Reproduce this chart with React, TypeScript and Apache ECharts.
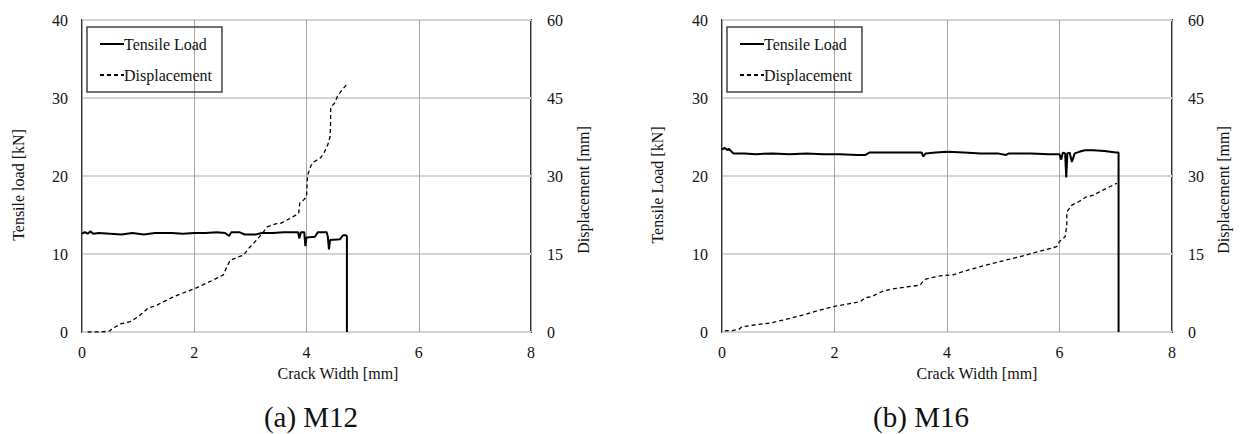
import React, { useEffect, useRef } from "react";
import * as echarts from "echarts";

const xTicks = [0, 2, 4, 6, 8];
const loadTicks = [0, 10, 20, 30, 40];
const dispTicks = [0, 15, 30, 45, 60];

const m12Load: [number, number][] = [
  [0, 12.6], [0.05, 12.8], [0.1, 12.6], [0.15, 12.9], [0.2, 12.6], [0.3, 12.7], [0.5, 12.6], [0.7, 12.5],
  [0.9, 12.7], [1.1, 12.5], [1.3, 12.7], [1.6, 12.7], [1.8, 12.6], [2.0, 12.7], [2.2, 12.7], [2.4, 12.8],
  [2.55, 12.7], [2.62, 12.3], [2.66, 12.8], [2.8, 12.8], [2.9, 12.5], [3.1, 12.5], [3.2, 12.7], [3.4, 12.7],
  [3.6, 12.8], [3.85, 12.8], [3.87, 12.0], [3.9, 12.8], [3.96, 12.8], [3.98, 11.0], [4.0, 12.1], [4.15, 12.2],
  [4.2, 12.8], [4.36, 12.8], [4.38, 12.2], [4.4, 10.6], [4.42, 11.8], [4.6, 11.9], [4.65, 12.4], [4.7, 12.4],
  [4.72, 12.3], [4.72, 0],
];

const m12Disp: [number, number][] = [
  [0.1, 0], [0.2, 0], [0.35, 0], [0.5, 0.2], [0.53, 0.6], [0.7, 1.6], [0.86, 2.0], [0.95, 2.6], [1.04, 3.3],
  [1.18, 4.6], [1.3, 5.0], [1.45, 5.8], [1.6, 6.6], [1.75, 7.3], [2.02, 8.4], [2.2, 9.3], [2.34, 10.0],
  [2.52, 11.0], [2.58, 12.5], [2.64, 13.8], [2.8, 14.5], [2.88, 14.8], [2.98, 16.2], [3.06, 17.1], [3.2, 18.8],
  [3.3, 20.2], [3.45, 20.8], [3.54, 20.9], [3.7, 21.8], [3.86, 22.8], [3.88, 24.8], [3.95, 25.4], [4.0, 26.0],
  [4.01, 28.5], [4.02, 30.2], [4.08, 32.0], [4.13, 32.7], [4.25, 33.5], [4.31, 34.4], [4.38, 36.0], [4.42, 37.6],
  [4.43, 40.5], [4.43, 43.2], [4.5, 44.0], [4.55, 45.3], [4.63, 46.5], [4.71, 47.5],
];

const m16Load: [number, number][] = [
  [0, 23.4], [0.05, 23.6], [0.1, 23.3], [0.12, 23.5], [0.2, 22.9], [0.4, 22.9], [0.6, 22.8], [0.9, 22.9],
  [1.2, 22.8], [1.5, 22.9], [1.8, 22.8], [2.1, 22.8], [2.4, 22.7], [2.55, 22.7], [2.62, 23.0], [3.0, 23.0],
  [3.3, 23.0], [3.55, 23.0], [3.58, 22.5], [3.62, 22.9], [3.8, 23.0], [4.0, 23.1], [4.3, 23.0], [4.6, 22.9],
  [4.9, 22.9], [5.05, 22.7], [5.1, 22.9], [5.5, 22.9], [5.8, 22.8], [6.0, 22.8], [6.03, 22.1], [6.06, 23.0],
  [6.1, 22.9], [6.12, 19.8], [6.14, 22.9], [6.18, 23.0], [6.22, 21.8], [6.27, 22.9], [6.35, 23.1], [6.45, 23.3],
  [6.6, 23.3], [6.8, 23.2], [6.9, 23.1], [7.0, 23.0], [7.05, 23.0], [7.05, 0],
];

const m16Disp: [number, number][] = [
  [0.05, 0.2], [0.2, 0.3], [0.3, 0.5], [0.35, 1.0], [0.6, 1.4], [0.85, 1.7], [1.2, 2.6], [1.45, 3.3],
  [1.7, 4.1], [1.98, 4.9], [2.2, 5.3], [2.45, 5.8], [2.5, 6.2], [2.55, 6.6], [2.66, 6.8], [2.75, 7.3],
  [2.87, 7.9], [3.0, 8.2], [3.1, 8.4], [3.3, 8.7], [3.52, 9.0], [3.6, 10.1], [3.75, 10.5], [3.88, 10.8],
  [4.11, 11.0], [4.4, 12.0], [4.71, 12.9], [5.0, 13.7], [5.3, 14.5], [5.6, 15.4], [5.95, 16.4], [6.0, 17.4],
  [6.1, 18.3], [6.13, 20.5], [6.13, 23.1], [6.22, 24.4], [6.35, 25.1], [6.48, 26.0], [6.6, 26.3], [6.72, 27.0],
  [6.85, 27.7], [7.02, 28.6],
];

const seriesNames = ["Tensile Load", "Displacement"];
const panelTitles = ["(a) M12", "(b) M16"];
const loadAxisTitles = ["Tensile load [kN]", "Tensile Load [kN]"];
const dispAxisTitle = "Displacement [mm]";
const xAxisTitle = "Crack Width [mm]";

const FONT = "Liberation Serif";
const TXT = "#111";

export default function App() {
  const ref = useRef<HTMLDivElement>(null);
  useEffect(() => {
    if (!ref.current) return;
    const chart = echarts.init(ref.current, undefined, { renderer: "svg" });
    const grids = [
      { left: 82, top: 20, width: 449, height: 312 },
      { left: 722, top: 20, width: 450, height: 312 },
    ];
    const xAxis = grids.map((_, i) => ({
      type: "value",
      gridIndex: i,
      min: xTicks[0],
      max: xTicks[xTicks.length - 1],
      interval: 2,
      axisLine: { show: false },
      axisTick: { show: false },
      axisLabel: { margin: 12, fontFamily: FONT, fontSize: 16, color: TXT },
      splitLine: { show: true, lineStyle: { color: "#a6a6a6", width: 1 } },
    }));
    const yAxis: any[] = [];
    grids.forEach((_, i) => {
      yAxis.push({
        type: "value",
        gridIndex: i,
        position: "left",
        min: loadTicks[0],
        max: loadTicks[loadTicks.length - 1],
        interval: 10,
        axisLine: { show: false },
        axisTick: { show: false },
        axisLabel: { margin: 14, fontFamily: FONT, fontSize: 16, color: TXT },
        splitLine: { show: true, lineStyle: { color: "#d4d4d4", width: 2 } },
      });
      yAxis.push({
        type: "value",
        gridIndex: i,
        position: "right",
        min: dispTicks[0],
        max: dispTicks[dispTicks.length - 1],
        interval: 15,
        axisLine: { show: false },
        axisTick: { show: false },
        axisLabel: { margin: 16, fontFamily: FONT, fontSize: 16, color: TXT },
        splitLine: { show: false },
      });
    });
    const datasets = [
      [m12Load, m12Disp],
      [m16Load, m16Disp],
    ];
    const series: any[] = [];
    datasets.forEach((pair, i) => {
      series.push({
        type: "line",
        name: seriesNames[0],
        xAxisIndex: i,
        yAxisIndex: i * 2,
        data: pair[0],
        showSymbol: false,
        symbol: "none",
        lineStyle: { color: "#000", width: 2, type: "solid" },
        itemStyle: { color: "#000" },
      });
      series.push({
        type: "line",
        name: seriesNames[1],
        xAxisIndex: i,
        yAxisIndex: i * 2 + 1,
        data: pair[1],
        showSymbol: false,
        symbol: "none",
        lineStyle: { color: "#000", width: 1.3, type: [4, 3] },
        itemStyle: { color: "#000" },
      });
    });
    const legendLefts = [87, 727];
    const legend = legendLefts.map((l) => ({
      left: l,
      top: 27,
      orient: "vertical",
      data: seriesNames,
      itemWidth: 24,
      itemHeight: 14,
      itemGap: 15,
      padding: [9, 10, 9, 12],
      borderColor: "#444",
      borderWidth: 1.5,
      selectedMode: false,
      itemStyle: { opacity: 0 },
      textStyle: { fontFamily: FONT, fontSize: 16, color: TXT, padding: [0, 0, 0, -5] },
    }));
    const textEl = (text: string, x: number, y: number, size: number, rot = 0) => ({
      type: "text",
      x,
      y,
      rotation: rot,
      style: {
        text,
        fontFamily: FONT,
        fontSize: size,
        fill: TXT,
        textAlign: "center",
        textVerticalAlign: "middle",
      },
    });
    const graphic = [
      textEl(loadAxisTitles[0], 18, 185, 16, Math.PI / 2),
      textEl(dispAxisTitle, 583, 190, 16, Math.PI / 2),
      textEl(loadAxisTitles[1], 657, 185, 16, Math.PI / 2),
      textEl(dispAxisTitle, 1223, 190, 16, Math.PI / 2),
      textEl(xAxisTitle, 338, 373, 16),
      textEl(xAxisTitle, 977, 373, 16),
      textEl(panelTitles[0], 311, 417, 29),
      textEl(panelTitles[1], 921, 417, 29),
    ];
    chart.setOption({
      animation: false,
      backgroundColor: "#fff",
      grid: grids.map((g) => ({ ...g, show: true, borderColor: "#333", borderWidth: 2, backgroundColor: "transparent" })),
      xAxis,
      yAxis,
      series,
      legend,
      graphic,
    });
    return () => chart.dispose();
  }, []);
  return (
    <div
      ref={ref}
      style={{ position: "fixed", left: 0, top: 0, width: 1240, height: 434, background: "#fff" }}
    />
  );
}
